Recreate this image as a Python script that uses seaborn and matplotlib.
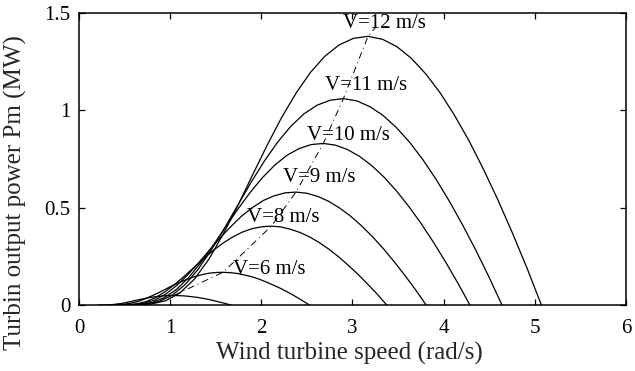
import pandas as pd
import matplotlib
matplotlib.use("Agg")
import matplotlib.pyplot as plt
import seaborn as sns

# wind speed of each curve (m/s)
wind_speeds = [4, 6, 8, 9, 10, 11, 12]

# turbine speed (rad/s) and output power (MW)
w_4 = [0.208, 0.26, 0.312, 0.364, 0.416, 0.468, 0.52, 0.572, 0.624, 0.676, 0.728, 0.78, 0.832, 0.884, 0.936,
       0.988, 1.04, 1.092, 1.144, 1.196, 1.248, 1.30, 1.352, 1.404, 1.456, 1.508, 1.56, 1.612, 1.664]
p_4 = [0.0, 0.0, 0.001, 0.002, 0.005, 0.008, 0.013, 0.018, 0.024, 0.029, 0.034, 0.039, 0.042, 0.045, 0.047,
       0.049, 0.049, 0.048, 0.047, 0.045, 0.042, 0.039, 0.035, 0.030, 0.025, 0.019, 0.013, 0.007, 0.0]

w_6 = [0.316, 0.395, 0.474, 0.553, 0.632, 0.711, 0.79, 0.869, 0.948, 1.027, 1.106, 1.185, 1.264, 1.343, 1.422,
       1.501, 1.58, 1.659, 1.738, 1.817, 1.896, 1.975, 2.054, 2.133, 2.212, 2.291, 2.37, 2.449, 2.528]
p_6 = [0.0, 0.001, 0.003, 0.008, 0.016, 0.029, 0.045, 0.062, 0.081, 0.100, 0.117, 0.132, 0.145, 0.155, 0.163,
       0.167, 0.168, 0.166, 0.162, 0.154, 0.145, 0.133, 0.118, 0.102, 0.085, 0.066, 0.045, 0.023, 0.0]

w_8 = [0.422, 0.528, 0.633, 0.739, 0.844, 0.950, 1.055, 1.161, 1.266, 1.372, 1.477, 1.583, 1.688, 1.794, 1.899,
       2.005, 2.11, 2.216, 2.321, 2.427, 2.532, 2.638, 2.743, 2.849, 2.954, 3.060, 3.165, 3.271, 3.376]
p_8 = [0.0, 0.001, 0.006, 0.018, 0.039, 0.070, 0.108, 0.150, 0.195, 0.240, 0.282, 0.319, 0.350, 0.375, 0.392,
       0.402, 0.405, 0.401, 0.389, 0.372, 0.349, 0.320, 0.286, 0.247, 0.204, 0.158, 0.108, 0.056, 0.0]

w_9 = [0.476, 0.595, 0.714, 0.833, 0.952, 1.071, 1.19, 1.309, 1.428, 1.547, 1.666, 1.785, 1.904, 2.023, 2.142,
       2.261, 2.38, 2.499, 2.618, 2.737, 2.856, 2.975, 3.094, 3.213, 3.332, 3.451, 3.57, 3.689, 3.808]
p_9 = [0.0, 0.002, 0.009, 0.026, 0.056, 0.100, 0.154, 0.215, 0.280, 0.344, 0.403, 0.457, 0.501, 0.537, 0.561,
       0.576, 0.58, 0.574, 0.558, 0.533, 0.499, 0.458, 0.409, 0.354, 0.293, 0.226, 0.155, 0.080, 0.0]

w_10 = [0.536, 0.67, 0.804, 0.938, 1.072, 1.206, 1.34, 1.474, 1.608, 1.742, 1.876, 2.01, 2.144, 2.278, 2.412,
        2.546, 2.68, 2.814, 2.948, 3.082, 3.216, 3.35, 3.484, 3.618, 3.752, 3.886, 4.02, 4.154, 4.288]
p_10 = [0.0, 0.003, 0.013, 0.038, 0.081, 0.143, 0.220, 0.308, 0.400, 0.492, 0.577, 0.653, 0.717, 0.768, 0.803,
        0.824, 0.83, 0.821, 0.798, 0.762, 0.714, 0.655, 0.585, 0.506, 0.419, 0.324, 0.222, 0.114, 0.0]

w_11 = [0.58, 0.725, 0.87, 1.015, 1.16, 1.305, 1.45, 1.595, 1.74, 1.885, 2.03, 2.175, 2.32, 2.465, 2.61,
        2.755, 2.90, 3.045, 3.19, 3.335, 3.48, 3.625, 3.77, 3.915, 4.06, 4.205, 4.35, 4.495, 4.64]
p_11 = [0.0, 0.004, 0.017, 0.048, 0.103, 0.182, 0.282, 0.394, 0.511, 0.628, 0.737, 0.834, 0.916, 0.981, 1.026,
        1.052, 1.06, 1.049, 1.019, 0.974, 0.912, 0.837, 0.748, 0.647, 0.535, 0.414, 0.284, 0.146, 0.0]

w_12 = [0.634, 0.793, 0.951, 1.110, 1.268, 1.427, 1.585, 1.744, 1.902, 2.061, 2.219, 2.378, 2.536, 2.695, 2.853,
        3.012, 3.17, 3.329, 3.487, 3.646, 3.804, 3.963, 4.121, 4.280, 4.438, 4.597, 4.755, 4.914, 5.072]
p_12 = [0.0, 0.005, 0.022, 0.063, 0.134, 0.237, 0.367, 0.512, 0.666, 0.818, 0.960, 1.086, 1.193, 1.277, 1.336,
        1.370, 1.38, 1.365, 1.327, 1.267, 1.187, 1.089, 0.973, 0.842, 0.696, 0.538, 0.369, 0.190, 0.0]

# maximum power point line (dash-dot)
w_opt = [1.04, 1.58, 2.11, 2.38, 2.68, 2.90, 3.17, 3.26]
p_opt = [0.049, 0.168, 0.405, 0.58, 0.83, 1.06, 1.38, 1.43]

curve_labels = ["V=12 m/s", "V=11 m/s", "V=10 m/s", "V=9 m/s", "V=8 m/s", "V=6 m/s"]

speeds = [w_4, w_6, w_8, w_9, w_10, w_11, w_12]
powers = [p_4, p_6, p_8, p_9, p_10, p_11, p_12]
frames = []
for v, w, p in zip(wind_speeds, speeds, powers):
    frames.append(pd.DataFrame({"speed": w, "power": p, "V": v}))
df = pd.concat(frames, ignore_index=True)
opt = pd.DataFrame({"speed": w_opt, "power": p_opt})

sns.set_theme(style="ticks")
plt.rcParams["font.family"] = ["Liberation Serif", "DejaVu Serif"]

fig = plt.figure(figsize=(6.35, 3.71), dpi=100)
ax = fig.add_axes([0.1244, 0.1779, 0.8614, 0.7871])

sns.lineplot(data=df, x="speed", y="power", hue="V", palette=["black"] * len(wind_speeds),
             estimator=None, sort=False, legend=False, linewidth=0.9, ax=ax)
sns.lineplot(data=opt, x="speed", y="power", color="black", estimator=None, sort=False,
             linewidth=0.7, linestyle=(0, (7, 4, 1, 4)), ax=ax)

# curve annotations (left x, centre y)
label_pos = [(2.90, 1.445), (2.70, 1.125), (2.50, 0.87), (2.24, 0.655), (1.84, 0.45), (1.69, 0.18)]
for txt, (lx, ly) in zip(curve_labels, label_pos):
    ax.text(lx, ly, txt, ha="left", va="center", fontsize=15, color="black")

ax.set_xlim(0, 6)
ax.set_ylim(0, 1.5)
ax.set_xticks([0, 1, 2, 3, 4, 5, 6])
ax.set_xticklabels(["0", "1", "2", "3", "4", "5", "6"])
ax.set_yticks([0, 0.5, 1, 1.5])
ax.set_yticklabels(["0", "0.5", "1", "1.5"])
ax.tick_params(direction="in", length=4, width=0.9, top=True, right=True,
               labelsize=15, colors="black")
ax.tick_params(axis="x", pad=10)
ax.tick_params(axis="y", pad=6)
for s in ax.spines.values():
    s.set_linewidth(1.1)
    s.set_color("black")

ax.set_xlabel("Wind turbine speed (rad/s)", fontsize=18)
ax.set_ylabel("Turbin output power Pm (MW)", fontsize=18)
ax.xaxis.set_label_coords(0.495, -0.125)
ax.yaxis.set_label_coords(-0.095, 0.384)

fig.savefig("out.png", dpi=100)
